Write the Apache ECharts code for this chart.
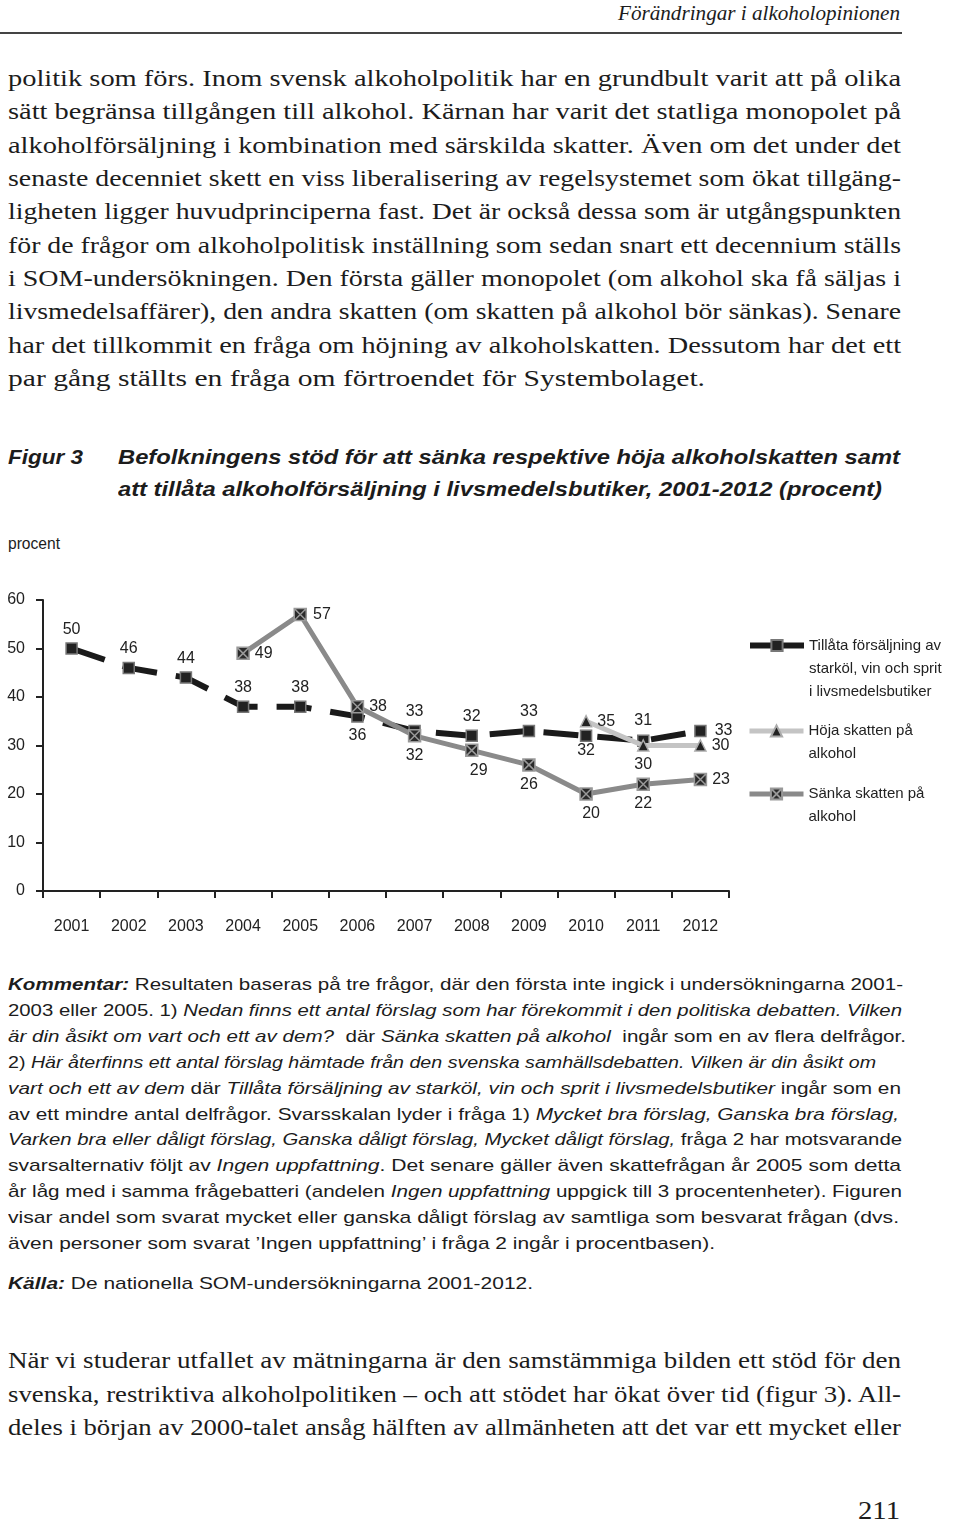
<!DOCTYPE html>
<html><head><meta charset="utf-8">
<script src="https://cdn.jsdelivr.net/npm/echarts@6/dist/echarts.min.js"></script>
<style>
html,body{margin:0;padding:0;background:#fff;}
#page{position:relative;width:960px;height:1524px;overflow:hidden;color:#1c1c1c;}
.ln{position:absolute;white-space:pre;}
.ln span{display:inline-block;transform-origin:0 50%;white-space:pre;}
.serif{font-family:"Liberation Serif","DejaVu Serif",serif;font-size:24px;line-height:33px;}
.hdr{font-family:"Liberation Serif","DejaVu Serif",serif;font-size:20px;line-height:26px;font-style:italic;}
.pg{font-family:"Liberation Serif","DejaVu Serif",serif;font-size:26px;line-height:32px;}
.sans{font-family:"Liberation Sans",Arial,sans-serif;font-size:17px;line-height:26px;}
.ttl{font-family:"Liberation Sans",Arial,sans-serif;font-size:21px;line-height:28px;font-weight:bold;font-style:italic;}
.small{font-family:"Liberation Sans",Arial,sans-serif;font-size:16px;line-height:22px;}
#rule{position:absolute;left:0;top:32px;width:902px;height:2px;background:#444;}
#chart{position:absolute;left:0;top:560px;width:960px;height:400px;}
</style></head>
<body><div id="page"><div id="rule"></div><div id="chart"></div></div>
<script>
// ---- data ----
const years = ['2001','2002','2003','2004','2005','2006','2007','2008','2009','2010','2011','2012'];
const tillata = [50, 46, 44, 38, 38, 36, 33, 32, 33, 32, 31, 33];
const hoja    = [null, null, null, null, null, null, null, null, null, 35, 30, 30];
const sanka   = [null, null, null, 49, 57, 38, 32, 29, 26, 20, 22, 23];
const yMin = 0, yMax = 60, yStep = 10;
const seriesNames = ['Tillåta', 'Höja', 'Sänka'];
const legendTexts = [
  ['Tillåta försäljning av', 'starköl, vin och sprit', 'i livsmedelsbutiker'],
  ['Höja skatten på', 'alkohol'],
  ['Sänka skatten på', 'alkohol']
];

// ---- label placement (style) ----
const tillataPos = ['top','top','top','top','top','bottom','top','top','top','bottom','top','right'];
const hojaPos    = [null,null,null,null,null,null,null,null,null,'right','bottom','right'];
const sankaPos   = [null,null,null,'right','right','right','bottom','bottom','bottom','bottom','bottom','right'];

function items(vals, pos, tweaks) {
  return vals.map((v, i) => {
    if (v == null) return null;
    const lab = { position: pos[i] };
    if (tweaks && tweaks[i]) Object.assign(lab, tweaks[i]);
    return { value: v, label: lab };
  });
}

// ---- page text ----
const lines = [
  ['hdr', 618, 282, 14, 'Förändringar i alkoholopinionen'],
  ['serif', 8, 893, 80, 'politik som förs. Inom svensk alkoholpolitik har en grundbult varit att på olika'],
  ['serif', 8, 893, 113, 'sätt begränsa tillgången till alkohol. Kärnan har varit det statliga monopolet på'],
  ['serif', 8, 893, 147, 'alkoholförsäljning i kombination med särskilda skatter. Även om det under det'],
  ['serif', 8, 893, 180, 'senaste decenniet skett en viss liberalisering av regelsystemet som ökat tillgäng-'],
  ['serif', 8, 893, 213, 'ligheten ligger huvudprinciperna fast. Det är också dessa som är utgångspunkten'],
  ['serif', 8, 893, 247, 'för de frågor om alkoholpolitisk inställning som sedan snart ett decennium ställs'],
  ['serif', 8, 893, 280, 'i SOM-undersökningen. Den första gäller monopolet (om alkohol ska få säljas i'],
  ['serif', 8, 893, 313, 'livsmedelsaffärer), den andra skatten (om skatten på alkohol bör sänkas). Senare'],
  ['serif', 8, 893, 347, 'har det tillkommit en fråga om höjning av alkoholskatten. Dessutom har det ett'],
  ['serif', 8, 697, 380, 'par gång ställts en fråga om förtroendet för Systembolaget.'],
  ['ttl', 8, 75, 458, 'Figur 3'],
  ['ttl', 118, 782, 458, 'Befolkningens stöd för att sänka respektive höja alkoholskatten samt'],
  ['ttl', 118, 764, 490, 'att tillåta alkoholförsäljning i livsmedelsbutiker, 2001-2012 (procent)'],
  ['small', 8, 52, 545, 'procent'],
  ['sans', 8, 895, 986, '<b><i>Kommentar:</i></b> Resultaten baseras på tre frågor, där den första inte ingick i undersökningarna 2001-'],
  ['sans', 8, 894, 1012, '2003 eller 2005. 1) <i>Nedan finns ett antal förslag som har förekommit i den politiska debatten. Vilken</i>'],
  ['sans', 8, 898, 1038, '<i>är din åsikt om vart och ett av dem?</i>  där <i>Sänka skatten på alkohol</i>  ingår som en av flera delfrågor.'],
  ['sans', 8, 868, 1064, '2) <i>Här återfinns ett antal förslag hämtade från den svenska samhällsdebatten. Vilken är din åsikt om</i>'],
  ['sans', 8, 893, 1090, '<i>vart och ett av dem</i> där <i>Tillåta försäljning av starköl, vin och sprit i livsmedelsbutiker</i> ingår som en'],
  ['sans', 8, 891, 1116, 'av ett mindre antal delfrågor. Svarsskalan lyder i fråga 1) <i>Mycket bra förslag, Ganska bra förslag,</i>'],
  ['sans', 8, 894, 1141, '<i>Varken bra eller dåligt förslag, Ganska dåligt förslag, Mycket dåligt förslag,</i> fråga 2 har motsvarande'],
  ['sans', 8, 893, 1167, 'svarsalternativ följt av <i>Ingen uppfattning</i>. Det senare gäller även skattefrågan år 2005 som detta'],
  ['sans', 8, 894, 1193, 'år låg med i samma frågebatteri (andelen <i>Ingen uppfattning</i> uppgick till 3 procentenheter). Figuren'],
  ['sans', 8, 891, 1219, 'visar andel som svarat mycket eller ganska dåligt förslag av samtliga som besvarat frågan (dvs.'],
  ['sans', 8, 707, 1245, 'även personer som svarat ’Ingen uppfattning’ i fråga 2 ingår i procentbasen).'],
  ['sans', 8, 525, 1285, '<b><i>Källa:</i></b> De nationella SOM-undersökningarna 2001-2012.'],
  ['serif', 8, 893, 1362, 'När vi studerar utfallet av mätningarna är den samstämmiga bilden ett stöd för den'],
  ['serif', 8, 893, 1396, 'svenska, restriktiva alkoholpolitiken – och att stödet har ökat över tid (figur 3). All-'],
  ['serif', 8, 893, 1429, 'deles i början av 2000-talet ansåg hälften av allmänheten att det var ett mycket eller'],
  ['pg', 858, 42, 1512, '211']
];
const topOff = {serif: 18, hdr: 14, pg: 17, sans: 14, ttl: 15, small: 12};
const page = document.getElementById('page');
lines.forEach(([cls, left, w, cy, html]) => {
  const d = document.createElement('div');
  d.className = 'ln ' + cls;
  d.style.left = left + 'px';
  d.style.top = (cy - topOff[cls]) + 'px';
  const s = document.createElement('span');
  s.innerHTML = html;
  d.appendChild(s);
  page.appendChild(d);
  const nat = s.getBoundingClientRect().width;
  s.style.transform = 'scaleX(' + (w / nat) + ')';
});

// ---- chart ----
const FONT = '"Liberation Sans", Arial, sans-serif';
const xSquare = 'path://M0,0L10,0L10,10L0,10ZM0,0L10,10M10,0L0,10';
const labelBase = { show: true, fontSize: 16, color: '#222', fontFamily: FONT, distance: 5 };
const lineColors = ['#1a1a1a', '#c4c4c4', '#8a8a8a'];
const lineWidths = [6, 5, 5];

const chart = echarts.init(document.getElementById('chart'), null, { renderer: 'canvas' });
// Legend text: blank lines are prepended so the first text line sits beside the icon
function legendFor(i, top) {
  const t = legendTexts[i];
  const blanks = new Array(t.length - 1).fill(' ');
  return {
    show: true, data: [seriesNames[i]], left: 747, top: top, orient: 'vertical',
    padding: 0, itemWidth: 54, itemHeight: 14, selectedMode: false,
    formatter: () => blanks.concat(t).join('\n'),
    textStyle: { fontFamily: FONT, fontSize: 15, lineHeight: 23, color: '#222' },
    lineStyle: { type: 'solid', width: lineWidths[i], color: lineColors[i] }
  };
}
chart.setOption({
  animation: false,
  textStyle: { fontFamily: FONT },
  legend: [legendFor(0, 28), legendFor(1, 136.5), legendFor(2, 199.5)],
  grid: { left: 43, right: 231, top: 40, bottom: 69, containLabel: false },
  xAxis: {
    type: 'category', data: years, boundaryGap: true,
    axisLine: { lineStyle: { color: '#222', width: 2 } },
    axisTick: { show: true, length: 7, lineStyle: { color: '#222', width: 2 } },
    axisLabel: { fontSize: 16, color: '#222', fontFamily: FONT, margin: 28 },
    splitLine: { show: false }
  },
  yAxis: {
    type: 'value', min: yMin, max: yMax, interval: yStep,
    axisLine: { show: true, lineStyle: { color: '#222', width: 2 } },
    axisTick: { show: true, length: 7, lineStyle: { color: '#222', width: 2 } },
    axisLabel: { fontSize: 16, color: '#222', fontFamily: FONT, margin: 18 },
    splitLine: { show: false }
  },
  series: [
    {
      name: seriesNames[0], type: 'line', z: 2,
      data: items(tillata, tillataPos, { 9: { distance: 1 }, 11: { distance: 8 }, 10: { distance: 6 } }),
      symbol: 'rect', symbolSize: 11,
      itemStyle: { color: '#222', borderColor: '#777', borderWidth: 1.5 },
      lineStyle: { color: lineColors[0], width: lineWidths[0], type: [35, 19] },
      label: labelBase, emphasis: { disabled: true }
    },
    {
      name: seriesNames[1], type: 'line', z: 3,
      data: items(hoja, hojaPos),
      symbol: 'triangle', symbolSize: 11,
      itemStyle: { color: '#222', borderColor: '#aaa', borderWidth: 1.5 },
      lineStyle: { color: lineColors[1], width: lineWidths[1] },
      label: labelBase, emphasis: { disabled: true }
    },
    {
      name: seriesNames[2], type: 'line', z: 4,
      data: items(sanka, sankaPos, { 4: { distance: 6 }, 7: { offset: [7, 0] }, 9: { offset: [5, 0] } }),
      symbol: xSquare, symbolSize: 12,
      itemStyle: { color: '#2a2a2a', borderColor: '#999', borderWidth: 1.5 },
      lineStyle: { color: lineColors[2], width: lineWidths[2] },
      label: labelBase, emphasis: { disabled: true }
    }
  ]
});
</script>
</body></html>
